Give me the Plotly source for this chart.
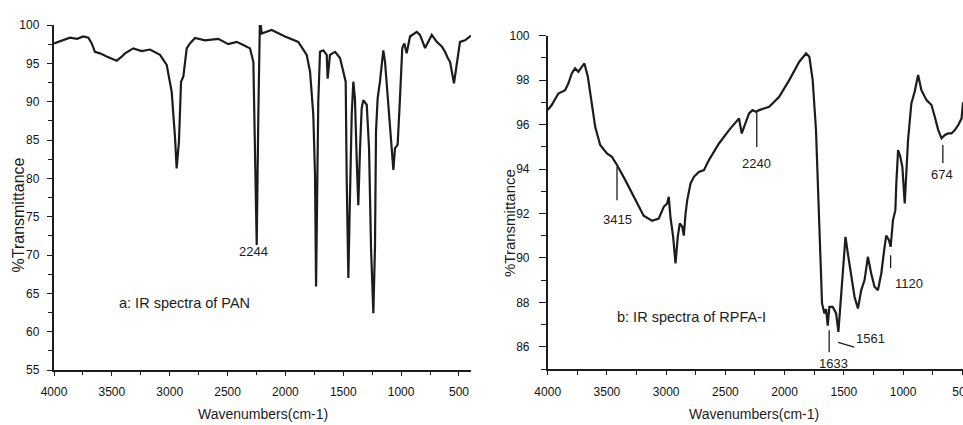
import plotly.graph_objects as go

# ---------------- data: (a) PAN ----------------
pan_wavenumber = [4000, 3920, 3862, 3800, 3747, 3703, 3674, 3646, 3602, 3545, 3500, 3458, 3420, 3386, 3315,
                  3242, 3170, 3084, 3026, 2983, 2954, 2940, 2920, 2902, 2882, 2853, 2825, 2781, 2695,
                  2580, 2494, 2421, 2364, 2306, 2277, 2263, 2248, 2234, 2220, 2205, 2119, 2003, 1889,
                  1816, 1787, 1759, 1744, 1735, 1724, 1716, 1701, 1672, 1643, 1635, 1615, 1571, 1528,
                  1500, 1479, 1470, 1456, 1442, 1427, 1413, 1399, 1384, 1370, 1355, 1341, 1327, 1297,
                  1277, 1260, 1240, 1226, 1217, 1203, 1183, 1168, 1154, 1139, 1110, 1081, 1067, 1053,
                  1030, 1010, 990, 972, 952, 923, 865, 837, 793, 735, 692, 649, 620, 597, 577, 543,
                  519, 491, 448, 419, 396]
pan_transmittance = [97.6, 98.0, 98.35, 98.2, 98.5, 98.35, 97.6, 96.5, 96.3, 95.9, 95.6, 95.35, 95.8, 96.3, 96.95,
                     96.6, 96.8, 96.1, 94.8, 91.3, 85.3, 81.3, 84.8, 92.6, 93.3, 96.95, 97.6, 98.3, 98.0,
                     98.2, 97.5, 97.8, 97.4, 96.95, 95.2, 84.0, 71.3, 88.3, 101.0, 98.9, 99.35, 98.5, 97.8,
                     96.1, 93.9, 88.3, 80.4, 65.9, 79.6, 90.0, 96.5, 96.7, 96.1, 93.0, 96.1, 96.5, 95.7,
                     93.9, 92.6, 79.6, 67.0, 77.6, 88.3, 92.6, 90.4, 82.6, 76.5, 83.9, 89.1, 90.2, 89.6,
                     83.9, 70.9, 62.4, 70.9, 86.1, 90.4, 92.6, 94.8, 96.7, 95.2, 89.1, 83.9, 81.1, 83.9,
                     84.4, 90.4, 97.0, 97.6, 96.3, 98.5, 99.1, 98.7, 97.0, 98.7, 97.8, 97.2, 96.5, 95.7, 95.2, 92.4,
                     94.8, 97.8, 98.0, 98.3, 98.6]

# ---------------- data: (b) RPFA-I ----------------
rpfa_wavenumber = [4000, 3966, 3910, 3853, 3825, 3797, 3769, 3741, 3712, 3690, 3661, 3627, 3599, 3557, 3500,
                   3458, 3415, 3345, 3260, 3190, 3119, 3063, 3020, 2992, 2978, 2964, 2941, 2921, 2902,
                   2885, 2864, 2851, 2836, 2822, 2794, 2766, 2724, 2681, 2639, 2554, 2469, 2385, 2362,
                   2342, 2300, 2271, 2243, 2215, 2130, 2046, 1961, 1876, 1819, 1791, 1763, 1735, 1715,
                   1701, 1684, 1664, 1650, 1636, 1622, 1594, 1565, 1546, 1523, 1503, 1486, 1466, 1438,
                   1410, 1381, 1353, 1325, 1297, 1269, 1241, 1212, 1184, 1156, 1142, 1119, 1105, 1085,
                   1065, 1057, 1042, 1023, 1006, 986, 972, 958, 930, 902, 873, 845, 802, 760, 732, 703,
                   675, 647, 619, 591, 563, 534, 506, 494]
rpfa_transmittance = [96.65, 96.88, 97.4, 97.55, 97.86, 98.3, 98.53, 98.38, 98.6, 98.75, 98.15, 96.8, 95.9, 95.08, 94.7,
                      94.55, 94.18, 93.5, 92.6, 91.9, 91.67, 91.77, 92.3, 92.45, 92.75, 91.85, 90.95, 89.75, 90.95,
                      91.55, 91.4, 91.0, 92.0, 92.6, 93.35, 93.65, 93.87, 93.95, 94.4, 95.15, 95.75, 96.28, 95.6,
                      95.9, 96.5, 96.65, 96.58, 96.65, 96.8, 97.25, 98.0, 98.83, 99.2, 99.05, 98.0, 95.75, 92.75,
                      89.75, 87.95, 87.5, 87.7, 86.95, 87.8, 87.8, 87.5, 86.67, 88.25, 89.75, 90.95, 90.2, 89.15,
                      88.25, 87.72, 88.55, 89.0, 90.05, 89.3, 88.7, 88.55, 89.3, 90.5, 91.0, 90.8, 90.5, 91.7,
                      92.15, 93.35, 94.85, 94.55, 94.1, 92.45, 93.95, 95.3, 96.95, 97.48, 98.23, 97.55, 97.1, 96.88, 96.35, 95.75,
                      95.38, 95.53, 95.6, 95.6, 95.75, 95.98, 96.28, 97.0]

# peak labels
pan_peak_labels = [(2280, 70.4, "2244")]
rpfa_peak_marks = [  # x0, y0, x1, y1
    (3415, 94.09, 3415, 92.6),
    (2235, 96.56, 2235, 94.99),
    (664, 95.08, 664, 94.27),
    (1105, 90.12, 1105, 89.54),
    (1548, 86.2, 1412, 85.98),
    (1624, 86.74, 1624, 85.75),
]
rpfa_peak_labels = [  # x, y, text, anchor
    (3415, 91.74, "3415", "center"),
    (2240, 94.27, "2240", "center"),
    (674, 93.77, "674", "center"),
    (1088, 88.86, "1120", "left"),
    (1412, 86.38, "1561", "left"),
    (1590, 85.26, "1633", "center"),
]

FONT = "Arial, Liberation Sans, sans-serif"
INK = "#1c1c1c"

fig = go.Figure()
fig.add_trace(go.Scatter(x=pan_wavenumber, y=pan_transmittance, mode="lines",
                         line=dict(color=INK, width=2.2), xaxis="x", yaxis="y", showlegend=False))
fig.add_trace(go.Scatter(x=rpfa_wavenumber, y=rpfa_transmittance, mode="lines",
                         line=dict(color=INK, width=2.2), xaxis="x2", yaxis="y2", showlegend=False))

common_axis = dict(showgrid=False, zeroline=False, showline=True, linecolor=INK, linewidth=1.5,
                   ticks="outside", tickcolor=INK, tickwidth=1.3, automargin=False,
                   ticklabeloverflow="allow",
                   tickfont=dict(family=FONT, size=12, color="#111111"))

fig.update_layout(
    width=963, height=425, margin=dict(l=0, r=0, t=0, b=0, autoexpand=False),
    paper_bgcolor="white", plot_bgcolor="white",
    xaxis=dict(domain=[54/963, 471/963], range=[4000, 396], tickvals=[4000, 3500, 3000, 2500, 2000, 1500, 1000, 500],
               ticklen=4, ticklabelstandoff=6, anchor="y",
               minor=dict(dtick=250, tick0=0, ticks="outside", ticklen=3, tickcolor=INK, tickwidth=1.2),
               **common_axis),
    yaxis=dict(domain=[55/425, 400/425], range=[55, 100], dtick=5, tick0=55,
               ticklen=5.5, ticklabelstandoff=5, anchor="x",
               minor=dict(dtick=2.5, tick0=55, ticks="outside", ticklen=4, tickcolor=INK, tickwidth=1.2),
               **common_axis),
    xaxis2=dict(domain=[547.7/963, 1.0], range=[4000, 494], tickvals=[4000, 3500, 3000, 2500, 2000, 1500, 1000, 500],
                ticklen=4.5, ticklabelstandoff=6, anchor="y2",
                minor=dict(dtick=250, tick0=0, ticks="outside", ticklen=4, tickcolor=INK, tickwidth=1.2),
                **common_axis),
    yaxis2=dict(domain=[56/425, 389.3/425], range=[85, 100], tickvals=[86, 88, 90, 92, 94, 96, 98, 100],
                ticklen=7, ticklabelstandoff=7, anchor="x2",
                minor=dict(dtick=1, tick0=85, ticks="outside", ticklen=5, tickcolor=INK, tickwidth=1.2),
                **common_axis),
)

ann = []
ann.append(dict(text="Wavenumbers(cm-1)", x=(54 + 471) / 2 / 963, y=(425 - 414) / 425, xref="paper", yref="paper",
                showarrow=False, font=dict(family=FONT, size=14, color=INK), xanchor="center", yanchor="middle"))
ann.append(dict(text="Wavenumbers(cm-1)", x=(547.7 + 960) / 2 / 963, y=(425 - 414) / 425, xref="paper", yref="paper",
                showarrow=False, font=dict(family=FONT, size=14, color=INK), xanchor="center", yanchor="middle"))
ann.append(dict(text="%Transmittance", x=17.5 / 963, y=(425 - 215) / 425, xref="paper", yref="paper",
                textangle=-90, showarrow=False, font=dict(family=FONT, size=16, color=INK),
                xanchor="center", yanchor="middle"))
ann.append(dict(text="%Transmittance", x=510 / 963, y=(425 - 223) / 425, xref="paper", yref="paper",
                textangle=-90, showarrow=False, font=dict(family=FONT, size=15, color=INK),
                xanchor="center", yanchor="middle"))
ann.append(dict(text="a: IR spectra of PAN", x=2868, y=63.75, xref="x", yref="y", showarrow=False,
                font=dict(family=FONT, size=14.5, color=INK), xanchor="center", yanchor="middle"))
ann.append(dict(text="b: IR spectra of RPFA-I", x=2786, y=87.33, xref="x2", yref="y2", showarrow=False,
                font=dict(family=FONT, size=14.5, color=INK), xanchor="center", yanchor="middle"))
for (wx, wy, txt) in pan_peak_labels:
    ann.append(dict(text=txt, x=wx, y=wy, xref="x", yref="y", showarrow=False,
                    font=dict(family=FONT, size=13, color=INK), xanchor="center", yanchor="middle"))
for (wx, wy, txt, anc) in rpfa_peak_labels:
    ann.append(dict(text=txt, x=wx, y=wy, xref="x2", yref="y2", showarrow=False,
                    font=dict(family=FONT, size=13, color=INK), xanchor=anc, yanchor="middle"))
fig.update_layout(annotations=ann)

for (x0, y0, x1, y1) in rpfa_peak_marks:
    fig.add_shape(type="line", x0=x0, y0=y0, x1=x1, y1=y1, xref="x2", yref="y2",
                  line=dict(color=INK, width=1.3))

fig.write_html("out.html", config={"displayModeBar": False},
               post_script="document.body.style.margin='0';document.body.style.overflow='hidden';")
